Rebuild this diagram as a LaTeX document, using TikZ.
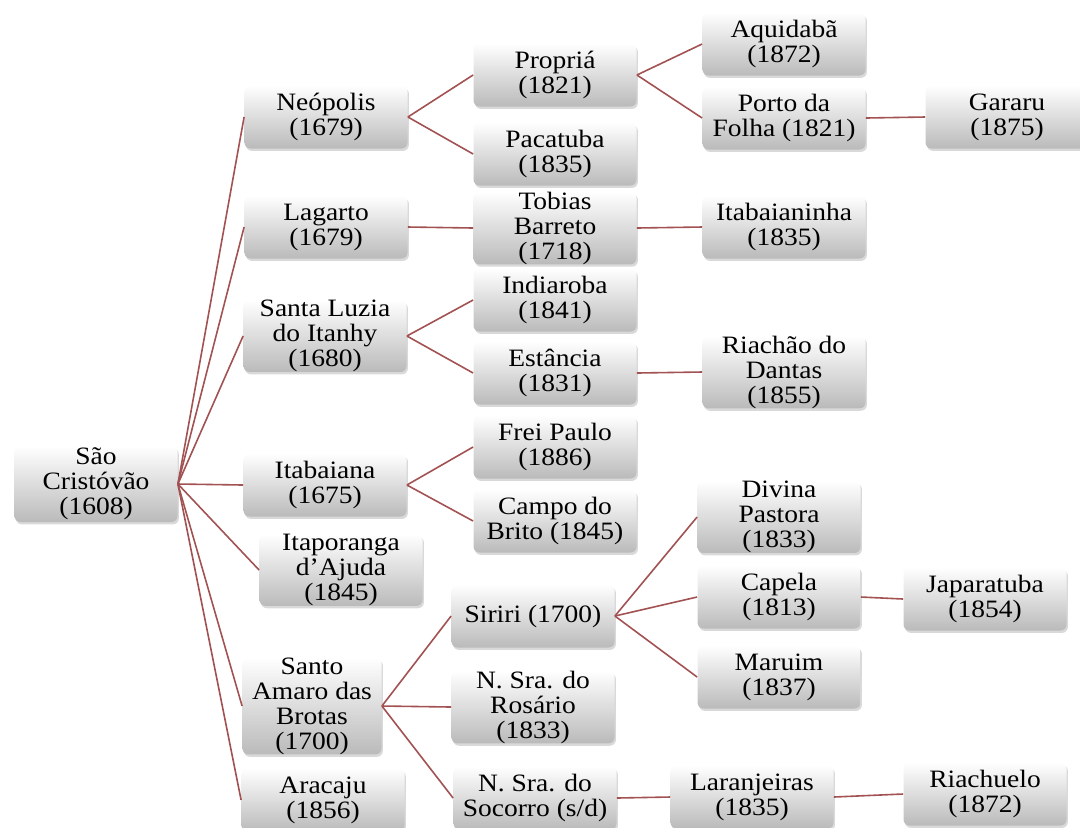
\documentclass[tikz,border=0pt]{standalone}
\usepackage{fontspec}
\setmainfont[FakeStretch=1.1]{Liberation Serif}
\usetikzlibrary{shadows}
\definecolor{linkred}{RGB}{162,82,82}

\begin{document}
\begin{tikzpicture}[
        x=0.5pt, y=-0.5pt,
        town/.style={rectangle, rounded corners=3pt, top color=white, bottom color=black!27,
            drop shadow={opacity=0.3, shadow xshift=0.7pt, shadow yshift=-1.2pt},
            minimum width=81.5pt, minimum height=31.5pt, inner xsep=2pt, inner ysep=0pt,
            align=center, font=\fontsize{12.5}{12.5}\selectfont},
        link/.style={draw=linkred, line width=0.8pt}
    ]
        \useasboundingbox (0,0) rectangle (1080,827);
        \clip (0,0) rectangle (1080,827);

        % root and first level
        \node[town, minimum height=38pt] (sc) at (96,484) {São\\Cristóvão\\(1608)};
        \node[town] (neo) at (326,117) {Neópolis\\(1679)};
        \node[town] (lag) at (326,227) {Lagarto\\(1679)};
        \node[town] (slz) at (325,336) {Santa Luzia\\do Itanhy\\(1680)};
        \node[town] (itb) at (325,485) {Itabaiana\\(1675)};
        \node[town] (itp) at (341,570) {Itaporanga\\d’Ajuda\\(1845)};
        \node[town, minimum width=69.5pt] (sam) at (312,706) {Santo\\Amaro das\\Brotas\\(1700)};
        \node[town] (ara) at (323,800) {Aracaju\\(1856)};

        % second level
        \node[town] (pro) at (555,75) {Propriá\\(1821)};
        \node[town] (pac) at (555,154) {Pacatuba\\(1835)};
        \node[town] (tob) at (555,228) {Tobias\\Barreto\\(1718)};
        \node[town] (ind) at (555,300) {Indiaroba\\(1841)};
        \node[town] (est) at (555,373) {Estância\\(1831)};
        \node[town] (fre) at (555,447) {Frei Paulo\\(1886)};
        \node[town] (cam) at (555,521) {Campo do\\Brito (1845)};
        \node[town] (sir) at (533,616) {Siriri (1700)};
        \node[town] (ros) at (533,707) {N. Sra. do\\Rosário\\(1833)};
        \node[town] (soc) at (535,798) {N. Sra. do\\Socorro (s/d)};

        % third level
        \node[town] (aqu) at (784,44) {Aquidabã\\(1872)};
        \node[town] (por) at (784,118) {Porto da\\Folha (1821)};
        \node[town] (itn) at (784,227) {Itabaianinha\\(1835)};
        \node[town] (ria) at (784,372) {Riachão do\\Dantas\\(1855)};
        \node[town] (div) at (779,517) {Divina\\Pastora\\(1833)};
        \node[town] (cap) at (779,597) {Capela\\(1813)};
        \node[town] (mar) at (779,677) {Maruim\\(1837)};
        \node[town] (lar) at (752,797) {Laranjeiras\\(1835)};

        % fourth level
        \node[town] (gar) at (1007,117) {Gararu\\(1875)};
        \node[town] (jap) at (985,599) {Japaratuba\\(1854)};
        \node[town] (riu) at (985,794) {Riachuelo\\(1872)};

        % links
        \foreach \a/\b in {sc/neo, sc/lag, sc/slz, sc/itb, sc/itp, sc/sam, sc/ara,
                neo/pro, neo/pac, lag/tob, slz/ind, slz/est, itb/fre, itb/cam,
                sam/sir, sam/ros, sam/soc,
                pro/aqu, pro/por, tob/itn, est/ria, sir/div, sir/cap, sir/mar, soc/lar,
                por/gar, cap/jap, lar/riu}
            \draw[link] (\a.east) -- (\b.west);
    \end{tikzpicture}
\end{document}
